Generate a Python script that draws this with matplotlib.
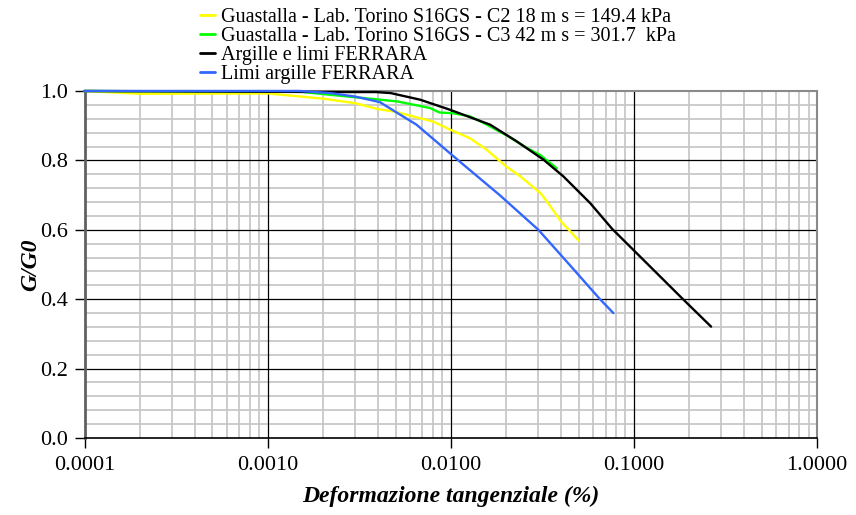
import matplotlib
matplotlib.use("Agg")
import matplotlib.pyplot as plt
from matplotlib.ticker import LogLocator, MultipleLocator, FixedLocator, FuncFormatter, NullFormatter

plt.rcParams['font.family'] = ['Liberation Serif', 'DejaVu Serif']

# Shear strain (%) and normalised shear modulus G/G0 for each curve
strain_c2 = [0.0001, 0.0002, 0.001, 0.002, 0.003, 0.004, 0.005, 0.008, 0.01,
             0.0127, 0.0157, 0.02, 0.024, 0.031, 0.034, 0.04, 0.05]
ggo_c2 = [1.0, 0.992, 0.993, 0.978, 0.965, 0.948, 0.940, 0.912, 0.888,
          0.864, 0.831, 0.783, 0.754, 0.705, 0.677, 0.624, 0.569]

strain_c3 = [0.0001, 0.0015, 0.0022, 0.0033, 0.0051, 0.0077, 0.0087, 0.0103,
             0.0127, 0.0151, 0.0202, 0.026, 0.0307, 0.038]
ggo_c3 = [1.0, 0.998, 0.989, 0.980, 0.970, 0.951, 0.938, 0.936,
          0.927, 0.908, 0.872, 0.836, 0.816, 0.777]

strain_ferrara_al = [0.0001, 0.0022, 0.0039, 0.0047, 0.0068, 0.0099, 0.0164, 0.0229,
                     0.0321, 0.0412, 0.0577, 0.0760, 0.1016, 0.183, 0.264]
ggo_ferrara_al = [1.0, 0.997, 0.997, 0.994, 0.975, 0.946, 0.903, 0.855,
                  0.802, 0.754, 0.677, 0.603, 0.537, 0.403, 0.321]

strain_ferrara_la = [0.0001, 0.0015, 0.0022, 0.0030, 0.0041, 0.0051, 0.0065, 0.011,
                     0.0185, 0.0301, 0.0444, 0.0653, 0.0773]
ggo_ferrara_la = [1.0, 1.0, 0.994, 0.984, 0.968, 0.937, 0.903, 0.800,
                  0.700, 0.600, 0.500, 0.400, 0.360]

labels = ["Guastalla - Lab. Torino S16GS - C2 18 m s = 149.4 kPa",
          "Guastalla - Lab. Torino S16GS - C3 42 m s = 301.7  kPa",
          "Argille e limi FERRARA",
          "Limi argille FERRARA"]
colors = ["#FFFF00", "#00FF00", "#000000", "#3366FF"]

x_ticks = [0.0001, 0.001, 0.01, 0.1, 1.0]
x_tick_labels = ["0.0001", "0.0010", "0.0100", "0.1000", "1.0000"]
y_ticks = [0.0, 0.2, 0.4, 0.6, 0.8, 1.0]

W, H = 856, 515
fig = plt.figure(figsize=(W / 100, H / 100), dpi=100)
left, right, top, bottom = 84.5, 817, 91, 438
ax = fig.add_axes([left / W, 1 - bottom / H, (right - left) / W, (bottom - top) / H])

series = [(strain_c2, ggo_c2), (strain_c3, ggo_c3),
          (strain_ferrara_al, ggo_ferrara_al), (strain_ferrara_la, ggo_ferrara_la)]
for (xs, ys), lab, col in zip(series, labels, colors):
    ax.plot(xs, ys, color=col, lw=1.7, label=lab, clip_on=False, zorder=3,
            solid_joinstyle='round', solid_capstyle='round')

ax.set_xscale('log')
ax.set_xlim(1e-4, 1.0)
ax.set_ylim(0.0, 1.0)

ax.xaxis.set_major_locator(FixedLocator(x_ticks))
ax.set_xticklabels(x_tick_labels)
ax.xaxis.set_minor_locator(LogLocator(base=10, subs=range(2, 10), numticks=20))
ax.xaxis.set_minor_formatter(NullFormatter())
ax.yaxis.set_major_locator(FixedLocator(y_ticks))
ax.yaxis.set_major_formatter(FuncFormatter(lambda v, p: f"{v:.1f}"))
ax.yaxis.set_minor_locator(MultipleLocator(0.04))

# light minor grid underneath, black major grid on top of it
ax.set_axisbelow(True)
ax.grid(which='minor', color='#c8c8c8', lw=1.3)
for xv in x_ticks[1:-1]:
    ax.axvline(xv, color='#000000', lw=0.9, zorder=1)
for yv in y_ticks[1:-1]:
    ax.axhline(yv, color='#000000', lw=0.9, zorder=1)

ax.tick_params(which='major', direction='out', length=7, width=1.0, color='#000000',
               labelsize=16, pad=6)
ax.tick_params(axis='y', which='major', pad=5)
ax.tick_params(which='minor', length=0)

for side in ('top', 'right'):
    ax.spines[side].set_color('#8a8a8a')
    ax.spines[side].set_linewidth(1.5)
ax.spines['left'].set_color('#606060')
ax.spines['left'].set_linewidth(2.0)
ax.spines['bottom'].set_color('#000000')
ax.spines['bottom'].set_linewidth(1.2)

ax.set_xlabel("Deformazione tangenziale (%)", fontsize=17, fontweight='bold',
              fontstyle='italic', labelpad=8)
ax.set_ylabel("G/G0", fontsize=17, fontweight='bold', fontstyle='italic', labelpad=-1)

leg = fig.legend(loc='upper left', bbox_to_anchor=(200 / W, 1 - 8 / H),
                 frameon=False, fontsize=14.5, handlelength=0.75, handletextpad=0.3,
                 labelspacing=0.0, borderpad=0.0, borderaxespad=0.0)
for line in leg.get_lines():
    line.set_linewidth(2.0)

fig.savefig("out.png", dpi=100)
